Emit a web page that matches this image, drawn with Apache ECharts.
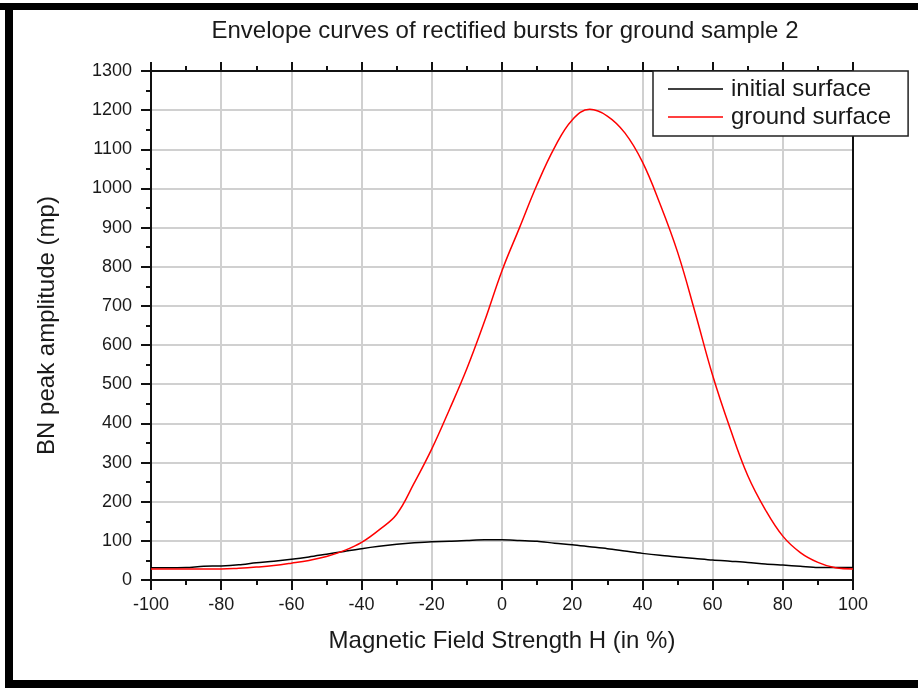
<!DOCTYPE html>
<html>
<head>
<meta charset="utf-8">
<script src="https://cdn.jsdelivr.net/npm/echarts@6/dist/echarts.min.js"></script>
<style>
  html, body { margin: 0; padding: 0; background: #fff; }
  #chart { width: 918px; height: 688px; }
</style>
</head>
<body>
<div id="chart"></div>
<script>
// ---- data ----
const xValues = [-100,-95,-90,-85,-80,-75,-70,-65,-60,-55,-50,-45,-40,-35,-30,-25,-20,-15,-10,-5,0,5,10,15,20,25,30,35,40,45,50,55,60,65,70,75,80,85,90,95,100];
const initialSurface = [31,31,32,35,36,39,44,48,53,59,66,73,80,86,91,95,98,99,101,103,103,101,99,94,90,85,80,74,68,63,59,55,51,48,45,41,38,35,32,32,32];
const groundSurface = [28,28,28,28,28,30,33,37,43,50,60,75,96,128,168,248,335,435,540,660,790,900,1010,1105,1175,1202,1185,1142,1068,961,838,684,523,387,267,180,112,70,45,31,28];
const seriesNames = ['initial surface', 'ground surface'];
const titleText = 'Envelope curves of rectified bursts for ground sample 2';
const xAxisName = 'Magnetic Field Strength H (in %)';
const yAxisName = 'BN peak amplitude (mp)';

const FONT = '"Liberation Sans", Arial, sans-serif';
const pairs = (ys) => xValues.map((x, i) => [x, ys[i]]);

const chart = echarts.init(document.getElementById('chart'), null, { renderer: 'canvas' });

const tickX = { min: -100, max: 100, interval: 20 };
const tickY = { min: 0, max: 1300, interval: 100 };
const plain = (v) => String(v);

chart.setOption({
  animation: false,
  backgroundColor: '#fff',
  grid: { left: 151, right: 65, top: 71, bottom: 108, containLabel: false },
  graphic: [
    { type: 'rect', shape: { x: 0, y: 3, width: 918, height: 7 }, style: { fill: '#000' }, silent: true },
    { type: 'rect', shape: { x: 5, y: 3, width: 8, height: 685 }, style: { fill: '#000' }, silent: true },
    { type: 'rect', shape: { x: 5, y: 680, width: 913, height: 8 }, style: { fill: '#000' }, silent: true },
    { type: 'text', x: 505, y: 31, style: { text: titleText, font: '24px ' + FONT, fill: '#1a1a1a', textAlign: 'center', textVerticalAlign: 'middle' }, silent: true }
  ],
  legend: {
    orient: 'vertical',
    left: 653,
    top: 71,
    padding: [6, 17, 7, 15],
    icon: 'rect',
    itemWidth: 55,
    itemHeight: 1.5,
    itemGap: 4,
    backgroundColor: '#fff',
    borderColor: '#222',
    borderWidth: 1.5,
    borderRadius: 0,
    textStyle: { fontFamily: FONT, fontSize: 24, color: '#1a1a1a', lineHeight: 24, padding: [0, 0, 0, 3] },
    data: seriesNames
  },
  xAxis: [
    {
      type: 'value', position: 'bottom', ...tickX,
      name: xAxisName, nameLocation: 'middle', nameGap: 49,
      nameTextStyle: { fontFamily: FONT, fontSize: 24, color: '#1a1a1a' },
      axisLine: { show: true, onZero: false, lineStyle: { color: '#111', width: 2 } },
      axisTick: { show: true, inside: false, length: 10, lineStyle: { color: '#111', width: 2 } },
      minorTick: { show: true, splitNumber: 2, length: 5, lineStyle: { color: '#111', width: 2 } },
      axisLabel: { margin: 16, fontFamily: FONT, fontSize: 18, color: '#1a1a1a', formatter: plain },
      splitLine: { show: true, lineStyle: { color: '#d0d0d0', width: 2 } }
    },
    {
      type: 'value', position: 'top', ...tickX,
      axisLine: { show: true, onZero: false, lineStyle: { color: '#111', width: 2 } },
      axisTick: { show: true, inside: false, length: 9, lineStyle: { color: '#111', width: 2 } },
      minorTick: { show: true, splitNumber: 2, length: 5, lineStyle: { color: '#111', width: 2 } },
      axisLabel: { show: false },
      splitLine: { show: false }
    }
  ],
  yAxis: [
    {
      type: 'value', position: 'left', ...tickY,
      name: yAxisName, nameLocation: 'middle', nameGap: 92,
      nameTextStyle: { fontFamily: FONT, fontSize: 24, color: '#1a1a1a' },
      axisLine: { show: true, onZero: false, lineStyle: { color: '#111', width: 2 } },
      axisTick: { show: true, inside: false, length: 10, lineStyle: { color: '#111', width: 2 } },
      minorTick: { show: true, splitNumber: 2, length: 5, lineStyle: { color: '#111', width: 2 } },
      axisLabel: { margin: 19, fontFamily: FONT, fontSize: 18, color: '#1a1a1a', formatter: plain },
      splitLine: { show: true, lineStyle: { color: '#d0d0d0', width: 2 } }
    },
    {
      type: 'value', position: 'right', ...tickY,
      axisLine: { show: true, onZero: false, lineStyle: { color: '#111', width: 2 } },
      axisTick: { show: false },
      axisLabel: { show: false },
      splitLine: { show: false }
    }
  ],
  series: [
    {
      name: seriesNames[0], type: 'line', xAxisIndex: 0, yAxisIndex: 0,
      data: pairs(initialSurface), symbol: 'none', smooth: 0.3,
      lineStyle: { color: '#000', width: 1.5 }, itemStyle: { color: '#000' }, z: 3
    },
    {
      name: seriesNames[1], type: 'line', xAxisIndex: 0, yAxisIndex: 0,
      data: pairs(groundSurface), symbol: 'none', smooth: 0.4,
      lineStyle: { color: '#ff0000', width: 1.5 }, itemStyle: { color: '#ff0000' }, z: 4
    }
  ]
});
</script>
</body>
</html>
